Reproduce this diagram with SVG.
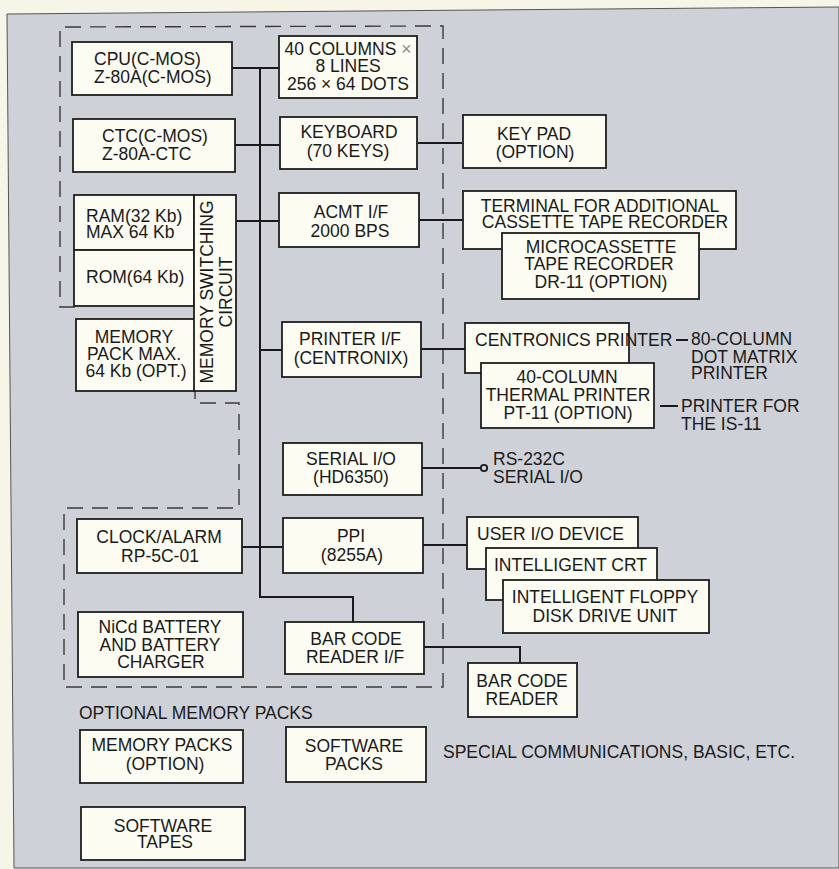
<svg xmlns="http://www.w3.org/2000/svg" width="839" height="869" viewBox="0 0 839 869">
<style>
.bx{fill:#fcfcf2;stroke:#1e1e1e;stroke-width:1.8}
.t{font-family:"Liberation Sans",Arial,Helvetica,sans-serif;font-size:17.5px;fill:#1a1a1a}
.m{text-anchor:middle}
.ln{fill:none;stroke:#1a1a1a;stroke-width:2}
.dash{fill:none;stroke:#3a3a3a;stroke-width:1.4;stroke-dasharray:16 9}
</style>
<rect x="0" y="0" width="839" height="869" fill="#f7f5e8"/>
<polygon points="7,14 839,7 839,868 14,868" fill="#cfd1d8" stroke="#555" stroke-width="1"/>

<path class="dash" d="M75,307 L60,307 L60,27 L443,26 L443,687 L64,687 L64,508 L239,508 L239,403 L195,403 L195,391"/>

<g id="connectors">
<path class="ln" d="M232,68 H279"/>
<path class="ln" d="M260,68 V597 H353 V622"/>
<path class="ln" d="M235,145 H280"/>
<path class="ln" d="M417,143 H463"/>
<path class="ln" d="M236,221 H279"/>
<path class="ln" d="M419,220 H463"/>
<path class="ln" d="M260,350 H282"/>
<path class="ln" d="M421,349 H465"/>
<path class="ln" d="M422,468 H481"/>
<circle cx="484" cy="468" r="3.2" fill="#cfd1d8" stroke="#1a1a1a" stroke-width="1.8"/>
<path class="ln" d="M242,547 H283"/>
<path class="ln" d="M423,545 H467"/>
<path class="ln" d="M424,647 H520 V663"/>
<path class="ln" d="M676,340 H688"/>
<path class="ln" d="M660,406 H678"/>
</g>

<g id="cpu">
<rect class="bx" x="72" y="42" width="160" height="53"/>
<text class="t" x="94" y="65">CPU(C-MOS)</text>
<text class="t" x="94" y="83">Z-80A(C-MOS)</text>
</g>
<g id="display">
<rect class="bx" x="279" y="36" width="138" height="62"/>
<text class="t m" x="348" y="55">40 COLUMNS <tspan fill="#8a8a8a">×</tspan></text>
<text class="t m" x="348" y="72">8 LINES</text>
<text class="t m" x="348" y="90">256 × 64 DOTS</text>
</g>
<g id="ctc">
<rect class="bx" x="73" y="119" width="162" height="53"/>
<text class="t" x="102" y="142">CTC(C-MOS)</text>
<text class="t" x="102" y="160">Z-80A-CTC</text>
</g>
<g id="keyboard">
<rect class="bx" x="280" y="117" width="137" height="52"/>
<text class="t m" x="349" y="138">KEYBOARD</text>
<text class="t m" x="348" y="157">(70 KEYS)</text>
</g>
<g id="keypad">
<rect class="bx" x="463" y="115" width="143" height="53"/>
<text class="t m" x="534" y="140">KEY PAD</text>
<text class="t m" x="535" y="158">(OPTION)</text>
</g>
<g id="ram">
<rect class="bx" x="74" y="195" width="120" height="55"/>
<text class="t" x="86" y="222">RAM(32 Kb)</text>
<text class="t" x="86" y="238">MAX 64 Kb</text>
</g>
<g id="rom">
<rect class="bx" x="74" y="250" width="120" height="56"/>
<text class="t" x="86" y="283">ROM(64 Kb)</text>
</g>
<g id="memory-pack">
<rect class="bx" x="76" y="319" width="119" height="72"/>
<text class="t m" x="134" y="343">MEMORY</text>
<text class="t m" x="134" y="360">PACK MAX.</text>
<text class="t m" x="136" y="377">64 Kb (OPT.)</text>
</g>
<g id="switching">
<rect class="bx" x="194" y="195" width="42" height="196"/>
<text class="t m" transform="translate(213,292) rotate(-90)">MEMORY SWITCHING</text>
<text class="t m" transform="translate(232,292) rotate(-90)">CIRCUIT</text>
</g>
<g id="acmt">
<rect class="bx" x="279" y="193" width="140" height="54"/>
<text class="t m" x="351" y="218">ACMT I/F</text>
<text class="t m" x="350" y="237">2000 BPS</text>
</g>
<g id="terminal">
<rect class="bx" x="463" y="191" width="273" height="58"/>
<text class="t m" x="600" y="212">TERMINAL FOR ADDITIONAL</text>
<text class="t m" x="605" y="228">CASSETTE TAPE RECORDER</text>
</g>
<g id="microcassette">
<rect class="bx" x="502" y="233" width="197" height="66"/>
<text class="t m" x="601" y="253">MICROCASSETTE</text>
<text class="t m" x="599" y="270">TAPE RECORDER</text>
<text class="t m" x="601" y="288">DR-11 (OPTION)</text>
</g>
<g id="printer-if">
<rect class="bx" x="282" y="322" width="139" height="55"/>
<text class="t m" x="350" y="345">PRINTER I/F</text>
<text class="t m" x="351" y="364">(CENTRONIX)</text>
</g>
<g id="centronics">
<rect class="bx" x="465" y="323" width="164" height="50"/>
<text class="t" x="475" y="346">CENTRONICS PRINTER</text>
</g>
<g id="thermal">
<rect class="bx" x="481" y="363" width="173" height="65"/>
<text class="t m" x="567" y="383">40-COLUMN</text>
<text class="t m" x="568" y="401">THERMAL PRINTER</text>
<text class="t m" x="568" y="419">PT-11 (OPTION)</text>
</g>
<g id="dotmatrix-label">
<text class="t" x="691" y="345">80-COLUMN</text>
<text class="t" x="691" y="363">DOT MATRIX</text>
<text class="t" x="691" y="379">PRINTER</text>
</g>
<g id="is11-label">
<text class="t" x="681" y="412">PRINTER FOR</text>
<text class="t" x="681" y="430">THE IS-11</text>
</g>
<g id="serial">
<rect class="bx" x="283" y="443" width="139" height="52"/>
<text class="t m" x="351" y="465">SERIAL I/O</text>
<text class="t m" x="351" y="483">(HD6350)</text>
</g>
<g id="rs232">
<text class="t" x="493" y="465">RS-232C</text>
<text class="t" x="493" y="483">SERIAL I/O</text>
</g>
<g id="clock">
<rect class="bx" x="77" y="519" width="165" height="54"/>
<text class="t m" x="159" y="543">CLOCK/ALARM</text>
<text class="t m" x="160" y="562">RP-5C-01</text>
</g>
<g id="ppi">
<rect class="bx" x="283" y="518" width="140" height="55"/>
<text class="t m" x="351" y="542">PPI</text>
<text class="t m" x="352" y="561">(8255A)</text>
</g>
<g id="user-io">
<rect class="bx" x="467" y="517" width="171" height="52"/>
<text class="t" x="477" y="540">USER I/O DEVICE</text>
</g>
<g id="crt">
<rect class="bx" x="486" y="548" width="171" height="52"/>
<text class="t" x="494" y="571">INTELLIGENT CRT</text>
</g>
<g id="floppy">
<rect class="bx" x="503" y="580" width="206" height="53"/>
<text class="t m" x="605" y="603">INTELLIGENT FLOPPY</text>
<text class="t m" x="605" y="622">DISK DRIVE UNIT</text>
</g>
<g id="nicd">
<rect class="bx" x="78" y="612" width="165" height="65"/>
<text class="t m" x="160" y="633">NiCd BATTERY</text>
<text class="t m" x="160" y="651">AND BATTERY</text>
<text class="t m" x="161" y="668">CHARGER</text>
</g>
<g id="barcode-if">
<rect class="bx" x="285" y="622" width="139" height="52"/>
<text class="t m" x="356" y="645">BAR CODE</text>
<text class="t m" x="355" y="663">READER I/F</text>
</g>
<g id="barcode-reader">
<rect class="bx" x="468" y="663" width="109" height="54"/>
<text class="t m" x="522" y="687">BAR CODE</text>
<text class="t m" x="522" y="705">READER</text>
</g>
<g id="optional-label">
<text class="t" x="79" y="719">OPTIONAL MEMORY PACKS</text>
</g>
<g id="memory-packs">
<rect class="bx" x="80" y="730" width="163" height="53"/>
<text class="t m" x="162" y="751">MEMORY PACKS</text>
<text class="t m" x="165" y="770">(OPTION)</text>
</g>
<g id="software-packs">
<rect class="bx" x="286" y="727" width="140" height="55"/>
<text class="t m" x="354" y="752">SOFTWARE</text>
<text class="t m" x="354" y="770">PACKS</text>
</g>
<g id="special-label">
<text class="t" x="443" y="758">SPECIAL COMMUNICATIONS, BASIC, ETC.</text>
</g>
<g id="software-tapes">
<rect class="bx" x="81" y="807" width="164" height="53"/>
<text class="t m" x="163" y="832">SOFTWARE</text>
<text class="t m" x="165" y="848">TAPES</text>
</g>
</svg>
